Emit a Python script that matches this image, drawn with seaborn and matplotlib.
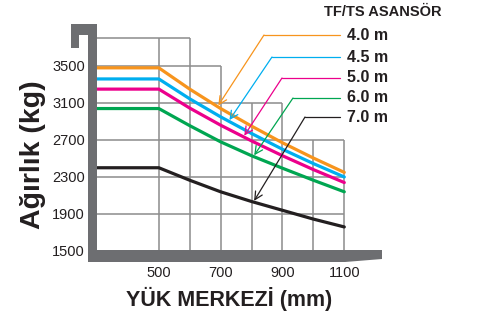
import numpy as np
import pandas as pd
import matplotlib
matplotlib.use("Agg")
import matplotlib.pyplot as plt
import matplotlib.transforms as mtransforms
from matplotlib.patches import Polygon
from matplotlib.lines import Line2D
import seaborn as sns

# Veriler (grafikten okunan yaklaşık değerler)
load_center = [300, 500, 600, 700, 800, 900, 1000, 1100]
cap_40 = [3480, 3480, 3250, 3040, 2850, 2670, 2505, 2350]
cap_45 = [3360, 3360, 3145, 2950, 2770, 2600, 2445, 2300]
cap_50 = [3250, 3250, 3045, 2860, 2690, 2530, 2380, 2240]
cap_60 = [3040, 3040, 2855, 2680, 2530, 2395, 2265, 2140]
cap_70 = [2400, 2400, 2265, 2140, 2035, 1940, 1845, 1760]
mast_labels = ["4.0 m", "4.5 m", "5.0 m", "6.0 m", "7.0 m"]
y_ticks = [1500, 1900, 2300, 2700, 3100, 3500]
x_ticks = [500, 700, 900, 1100]
legend_title = "TF/TS ASANSÖR"

colors = ["#f7941d", "#00aeef", "#ec008c", "#00a651", "#231f20"]
text_col = "#231f20"
frame_col = "#6d6e71"
grid_col = "#8c8c8c"

series = [cap_40, cap_45, cap_50, cap_60, cap_70]
df = pd.concat(
    [pd.DataFrame({"x": load_center, "y": s, "mast": m}) for s, m in zip(series, mast_labels)],
    ignore_index=True,
)

sns.set_style("white")
plt.rcParams["font.family"] = ["Liberation Sans", "DejaVu Sans"]

W, H = 479, 319
fig = plt.figure(figsize=(W / 100, H / 100), dpi=100)
# piksel koordinatları (sol üst köşe orijin)
px = mtransforms.Affine2D().scale(1 / 100, -1 / 100).translate(0, H / 100) + fig.dpi_scale_trans

ax_l, ax_r, ax_t, ax_b = 97, 382, 24, 251
ax = fig.add_axes([ax_l / W, (H - ax_b) / H, (ax_r - ax_l) / W, (ax_b - ax_t) / H])
ax.set_xlim(300, 1222)
ax.set_ylim(1500, 3954)

# basamaklı ızgara
grid_v = {500: 3800, 600: 3800, 700: 3500, 800: 3100, 900: 3100, 1000: 2700, 1100: 2700}
grid_h = {3800: 600, 3500: 700, 3100: 900, 2700: 1100, 2300: 1100, 1900: 1100}
for gx, top in grid_v.items():
    ax.vlines(gx, 1500, top, color=grid_col, lw=1.1, zorder=1)
for gy, right in grid_h.items():
    ax.hlines(gy, 300, right, color=grid_col, lw=1.1, zorder=1)

sns.lineplot(data=df, x="x", y="y", hue="mast", palette=colors, hue_order=mast_labels,
             estimator=None, sort=False, legend=False, linewidth=2.3, ax=ax, zorder=3)

for sp in ax.spines.values():
    sp.set_visible(False)
ax.set_xticks(x_ticks)
ax.set_yticks(y_ticks)
ax.tick_params(axis="both", length=0, labelsize=10.5, labelcolor=text_col)
ax.tick_params(axis="y", pad=8.6)
ax.tick_params(axis="x", pad=10.5)

ax.set_xlabel("YÜK MERKEZİ (mm)", fontsize=15.5, fontweight="bold", color=text_col, va="center")
ax.xaxis.set_label_coords(0.463, -0.2115)
ax.set_ylabel("Ağırlık (kg)", fontsize=20.5, fontweight="bold", color=text_col, va="center", ha="center")
ax.yaxis.set_label_coords(-0.2246, 0.423)

# gri çerçeve
hook = [(71, 24), (97, 24), (97, 262), (88, 262), (88, 35), (79, 35), (79, 48), (71, 48)]
floor = [(88, 250), (382, 250), (382, 259), (345, 262), (88, 262)]
for pts in (hook, floor):
    fig.add_artist(Polygon(pts, closed=True, transform=px, facecolor=frame_col,
                           edgecolor="none", zorder=5))

# açıklama ve oklar
fig.text(383, 12, legend_title, transform=px, ha="center", va="center",
         fontsize=10.5, fontweight="bold", color=text_col)
label_y = [35, 57, 78, 98, 117]
elbow_x = [264, 272, 282, 293, 305]
tip_x = [690, 726, 774, 806, 806]
for lab, c, s, ly, ex, tx in zip(mast_labels, colors, series, label_y, elbow_x, tip_x):
    fig.text(347, ly, lab, transform=px, ha="left", va="center",
             fontsize=11.5, fontweight="bold", color=text_col)
    fig.add_artist(Line2D([340, ex], [ly, ly], transform=px, color=c, lw=0.9))
    ty = np.interp(tx, load_center, s)
    ax.annotate("", xy=(tx, ty), xycoords="data", xytext=(ex, ly), textcoords=px,
                arrowprops=dict(arrowstyle="->", color=c, lw=0.9, shrinkA=0, shrinkB=1,
                                mutation_scale=14), zorder=6)

fig.savefig("out.png", dpi=100)
